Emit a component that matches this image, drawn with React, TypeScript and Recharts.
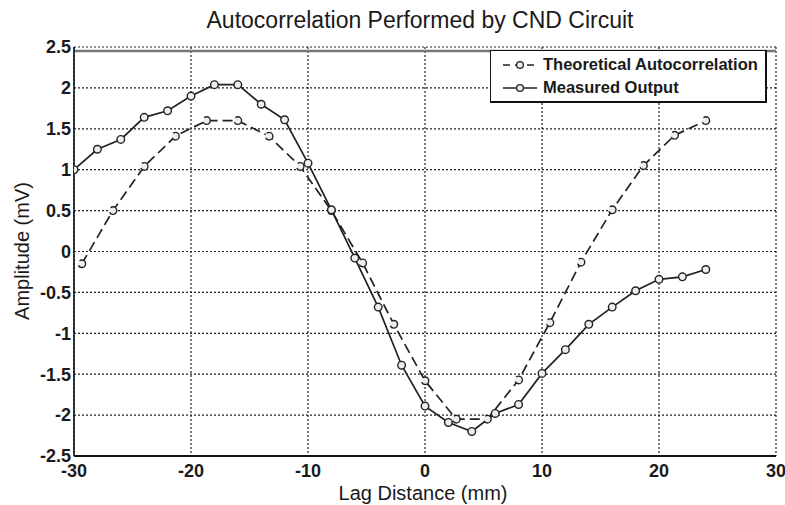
import React from 'react';
import { LineChart, Line, XAxis, YAxis, CartesianGrid, ReferenceLine, Label } from 'recharts';

const theoX = [-29.33, -26.67, -24, -21.33, -18.67, -16, -13.33, -10.67, -8, -5.33, -2.67, 0, 2.67, 5.33, 8, 10.67, 13.33, 16, 18.67, 21.33, 24];
const theoY = [-0.15, 0.5, 1.04, 1.41, 1.6, 1.6, 1.41, 1.04, 0.5, -0.14, -0.89, -1.58, -2.05, -2.05, -1.57, -0.87, -0.13, 0.51, 1.05, 1.42, 1.6];

const measX = [-30, -28, -26, -24, -22, -20, -18, -16, -14, -12, -10, -8, -6, -4, -2, 0, 2, 4, 6, 8, 10, 12, 14, 16, 18, 20, 22, 24];
const measY = [1.0, 1.25, 1.37, 1.64, 1.72, 1.9, 2.04, 2.04, 1.8, 1.61, 1.08, 0.51, -0.08, -0.68, -1.39, -1.89, -2.09, -2.2, -1.98, -1.87, -1.49, -1.2, -0.89, -0.68, -0.48, -0.34, -0.31, -0.22];

const xTicks = [-30, -20, -10, 0, 10, 20, 30];
const yTicks = [-2.5, -2, -1.5, -1, -0.5, 0, 0.5, 1, 1.5, 2, 2.5];

const seriesNames = ['Theoretical Autocorrelation', 'Measured Output'];

const theoData = theoX.map((x, i) => ({ x, y: theoY[i] }));
const measData = measX.map((x, i) => ({ x, y: measY[i] }));

const FONT = '"Liberation Sans", Arial, sans-serif';
const INK = '#1a1a1a';

const dot = { r: 3.8, stroke: '#222', strokeWidth: 1.4, fill: '#eeeeee' };

const LegendBox = () => (
  <div
    style={{
      position: 'absolute',
      left: 490,
      top: 50,
      width: 277,
      height: 53,
      boxSizing: 'border-box',
      border: '1.5px solid #111',
      borderRightWidth: 2.5,
      borderBottomWidth: 2.5,
      background: '#fff',
      fontFamily: FONT,
      fontWeight: 700,
      fontSize: 16.5,
      color: INK,
      padding: '2px 0 0 11px',
    }}
  >
    {seriesNames.map((name, i) => (
      <div key={name} style={{ display: 'flex', alignItems: 'center', height: 23 }}>
        <svg width={37} height={14} style={{ marginRight: 4 }}>
          <line x1={1} y1={7} x2={35} y2={7} stroke="#222" strokeWidth={1.6} strokeDasharray={i === 0 ? '7 5' : undefined} />
          <circle cx={18} cy={7} r={3.4} fill="#eeeeee" stroke="#222" strokeWidth={1.3} />
        </svg>
        <span style={{ whiteSpace: 'nowrap' }}>{name}</span>
      </div>
    ))}
  </div>
);

const YLabel = () => (
  <text
    x={22}
    y={251}
    transform="rotate(-90 22 251)"
    textAnchor="middle"
    dominantBaseline="central"
    fontFamily={FONT}
    fontSize={20}
    fill={INK}
  >
    Amplitude (mV)
  </text>
);

const XLabel = () => (
  <text x={423} y={500} textAnchor="middle" fontFamily={FONT} fontSize={20} fill={INK}>
    Lag Distance (mm)
  </text>
);

export default function App() {
  return (
    <div style={{ position: 'absolute', left: 0, top: 0, width: 785, height: 505, background: '#fff' }}>
      <div
        style={{
          position: 'absolute',
          left: 0,
          top: 7,
          width: 840,
          textAlign: 'center',
          fontFamily: FONT,
          fontSize: 23,
          color: INK,
          lineHeight: '26px',
        }}
      >
        Autocorrelation Performed by CND Circuit
      </div>
      <LineChart width={785} height={505} margin={{ top: 47, right: 9, bottom: 0, left: 0 }}>
        <CartesianGrid stroke="#222" strokeDasharray="2 2" strokeWidth={1.2} />
        <XAxis
          type="number"
          dataKey="x"
          domain={[-30, 30]}
          ticks={xTicks}
          allowDataOverflow
          height={49}
          tickSize={0}
          tickMargin={8}
          axisLine={{ stroke: '#111', strokeWidth: 2.2 }}
          tick={{ fontFamily: FONT, fontSize: 18, fontWeight: 700, fill: INK }}
        >
          <Label content={<XLabel />} />
        </XAxis>
        <YAxis
          type="number"
          dataKey="y"
          domain={[-2.5, 2.5]}
          ticks={yTicks}
          allowDataOverflow
          width={74}
          tickSize={0}
          tickMargin={3}
          axisLine={{ stroke: '#111', strokeWidth: 1.6 }}
          tickFormatter={(v: number) => String(v)}
          tick={{ fontFamily: FONT, fontSize: 18, fontWeight: 700, fill: INK }}
        >
          <Label content={<YLabel />} />
        </YAxis>
        <ReferenceLine y={2.45} stroke="#777" strokeWidth={2.5} />
        <Line
          name={seriesNames[0]}
          data={theoData}
          dataKey="y"
          type="linear"
          stroke="#222"
          strokeWidth={1.7}
          strokeDasharray="10 5"
          dot={dot}
          activeDot={false}
          isAnimationActive={false}
        />
        <Line
          name={seriesNames[1]}
          data={measData}
          dataKey="y"
          type="linear"
          stroke="#222"
          strokeWidth={1.7}
          dot={dot}
          activeDot={false}
          isAnimationActive={false}
        />
      </LineChart>
      <LegendBox />
    </div>
  );
}
